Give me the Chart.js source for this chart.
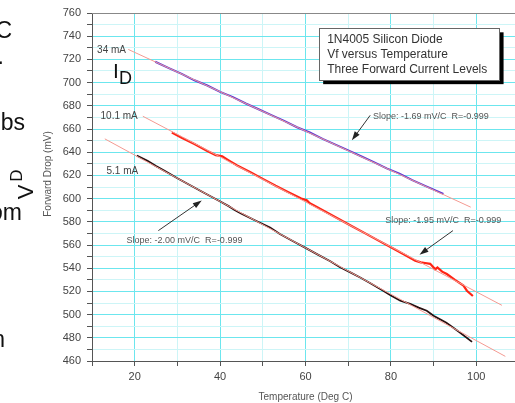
<!DOCTYPE html>
<html>
<head>
<meta charset="utf-8">
<script src="https://cdn.jsdelivr.net/npm/chart.js@4/dist/chart.umd.min.js"></script>
<style>
  html, body { margin: 0; padding: 0; background: #fff; overflow: hidden; }
  body { width: 515px; height: 403px; position: relative; font-family: "Liberation Sans", Arial, sans-serif; }
  #chart { position: absolute; left: 0; top: 0; }
  .slide { position: absolute; font-size: 23px; line-height: 1; color: #111; white-space: nowrap; }
  .rot { display: inline-block; transform-origin: center; transform: rotate(-90deg); }
</style>
</head>
<body>
<canvas id="chart" width="530" height="403"></canvas>

<!-- cut-off slide text on the left -->
<div class="slide" style="right:503px; top:19px;">C</div>
<div class="slide" style="right:511px; top:45px;">.</div>
<div class="slide" style="right:490px; top:111px;">bs</div>
<div class="slide" style="right:493px; top:201px;">om</div>
<div class="slide" style="right:510px; top:328px;">n</div>
<div class="slide rot" style="left:19px; top:181px; font-size:22px;">V</div>
<div class="slide rot" style="left:10px; top:167px; font-size:17px;">D</div>
<div class="slide" style="left:113px; top:60px; font-size:21px;">I</div>
<div class="slide" style="left:119px; top:69px; font-size:18px;">D</div>

<script>
  // ---- data ----
  const temps34 = [24.8, 28, 31, 34, 37, 40, 43, 46, 49, 52, 55, 58, 61, 64, 67, 70, 73, 76, 79, 82, 85, 88, 92.3];
  const drop34 = [718, 712.5, 707.5, 702, 697.5, 692, 687.5, 682, 677, 672, 667, 661.5, 657, 651.5, 646.5, 641.5, 636.5, 631.5, 626, 621.5, 616, 611, 604];

  const temps10 = [28.7, 31, 34, 37, 39, 40.5, 42, 44, 47, 50, 53, 56, 59, 60.3, 61, 62, 65, 68, 71, 74, 77, 80, 83, 85.7, 87, 88, 89.2, 90.4, 90.9, 92, 93.1, 95, 97, 97.8, 99.2];
  const drop10 = [657, 652.5, 647, 641, 637.5, 636.5, 633, 628.5, 623, 617, 611, 605.5, 600, 598.5, 596, 594, 588, 582, 576, 570, 564, 558, 552, 546.5, 545, 544.5, 543.8, 539, 540.7, 537, 535, 530, 525, 520.6, 516];

  const temps5 = [20.5, 23, 25, 27.1, 30, 33, 36, 39.6, 42, 43.5, 45, 48, 51.7, 54, 57, 60, 63, 65.8, 68, 70.5, 72.8, 75, 78, 80, 82.2, 84.5, 86.5, 88.4, 90, 93, 96, 99];
  const drop5 = [637, 632.5, 628, 623.7, 617.5, 611.5, 605.5, 598.4, 593.5, 590, 587, 581.5, 575, 569.5, 563.5, 557.5, 551.5, 546, 541, 536.4, 532, 527.5, 521, 516.5, 512, 509.3, 506, 503.3, 499, 493, 485, 476.5];

  // linear fit lines: [start, end]
  const fitTemps34 = [18.5, 98.7];
  const fitDrop34 = [728.6, 592.6];
  const fitTemps10 = [21.9, 106];
  const fitDrop10 = [671, 508];
  const fitTemps5 = [13, 106.8];
  const fitDrop5 = [651.5, 464];

  const xLabels = [20, 40, 60, 80, 100];
  const yLabels = [460, 480, 500, 520, 540, 560, 580, 600, 620, 640, 660, 680, 700, 720, 740, 760];

  const currentLabels = ["34 mA", "10.1 mA", "5.1 mA"];
  const slopeLabels = ["Slope: -1.69 mV/C  R=-0.999", "Slope: -1.95 mV/C  R=-0.999", "Slope: -2.00 mV/C  R=-0.999"];
  const boxLines = ["1N4005 Silicon Diode", "Vf versus Temperature", "Three Forward Current Levels"];

  function pts(xs, ys) {
    return xs.map((x, i) => ({ x: x, y: ys[i] }));
  }

  const FONT = "'Liberation Sans', Arial, sans-serif";

  // annotations placed in data units
  const notes = {
    currents: [[11.2, 728], [12.0, 671], [13.4, 623.7]],
    slopes: [[75.8, 670.4], [78.7, 581.1], [18.1, 563.8]],
    arrows: [
      [[75.15, 671.8], [70.86, 650.2]],
      [[94.53, 572.4], [86.7, 551.7]],
      [[25.54, 572.4], [35.71, 598.4]]
    ],
    box: [63.2, 746.8, 105.45, 702.1]
  };

  function arrow(ctx, x1, y1, x2, y2) {
    const a = Math.atan2(y2 - y1, x2 - x1);
    ctx.strokeStyle = "#333";
    ctx.fillStyle = "#222";
    ctx.lineWidth = 1;
    ctx.beginPath();
    ctx.moveTo(x1, y1);
    ctx.lineTo(x2 - 6 * Math.cos(a), y2 - 6 * Math.sin(a));
    ctx.stroke();
    ctx.beginPath();
    ctx.moveTo(x2, y2);
    ctx.lineTo(x2 - 9 * Math.cos(a) + 3 * Math.sin(a), y2 - 9 * Math.sin(a) - 3 * Math.cos(a));
    ctx.lineTo(x2 - 9 * Math.cos(a) - 3 * Math.sin(a), y2 - 9 * Math.sin(a) + 3 * Math.cos(a));
    ctx.closePath();
    ctx.fill();
  }

  const notesPlugin = {
    id: "notes",
    afterDatasetsDraw(chart) {
      const ctx = chart.ctx;
      const xs = chart.scales.x, ys = chart.scales.y;
      const area = chart.chartArea;
      ctx.save();

      // top frame line
      ctx.strokeStyle = "#888";
      ctx.lineWidth = 1;
      ctx.beginPath();
      ctx.moveTo(area.left, area.top + 0.5);
      ctx.lineTo(area.right, area.top + 0.5);
      ctx.stroke();

      // title box with shadow
      const bx1 = xs.getPixelForValue(notes.box[0]), by1 = ys.getPixelForValue(notes.box[1]);
      const bx2 = xs.getPixelForValue(notes.box[2]), by2 = ys.getPixelForValue(notes.box[3]);
      ctx.fillStyle = "#000";
      ctx.fillRect(bx1 + 4, by1 + 4, bx2 - bx1, by2 - by1);
      ctx.fillStyle = "#fff";
      ctx.fillRect(bx1, by1, bx2 - bx1, by2 - by1);
      ctx.strokeStyle = "#666";
      ctx.strokeRect(Math.round(bx1) + 0.5, Math.round(by1) + 0.5, Math.round(bx2 - bx1), Math.round(by2 - by1));
      ctx.fillStyle = "#333";
      ctx.font = "12px " + FONT;
      ctx.textBaseline = "middle";
      ctx.textAlign = "left";
      boxLines.forEach((t, i) => ctx.fillText(t, bx1 + 8, by1 + 11 + i * 15));

      // current labels
      ctx.font = "10px " + FONT;
      ctx.fillStyle = "#444";
      currentLabels.forEach((t, i) => {
        const p = notes.currents[i];
        ctx.fillText(t, xs.getPixelForValue(p[0]), ys.getPixelForValue(p[1]));
      });

      // slope labels and arrows
      ctx.font = "9px " + FONT;
      ctx.fillStyle = "#555";
      slopeLabels.forEach((t, i) => {
        const p = notes.slopes[i];
        ctx.fillText(t, xs.getPixelForValue(p[0]), ys.getPixelForValue(p[1]));
      });
      notes.arrows.forEach((a) => {
        arrow(ctx, xs.getPixelForValue(a[0][0]), ys.getPixelForValue(a[0][1]),
          xs.getPixelForValue(a[1][0]), ys.getPixelForValue(a[1][1]));
      });

      // axis titles
      ctx.fillStyle = "#555";
      ctx.font = "10px " + FONT;
      ctx.textAlign = "center";
      ctx.fillText("Temperature (Deg C)", (area.left + area.right) / 2, area.bottom + 36);
      ctx.translate(area.left - 44, (area.top + area.bottom) / 2 - 13);
      ctx.rotate(-Math.PI / 2);
      ctx.fillText("Forward Drop (mV)", 0, 0);
      ctx.restore();
    }
  };

  const ctx = document.getElementById("chart").getContext("2d");
  const chart = new Chart(ctx, {
    type: "line",
    data: {
      datasets: [
        { data: pts(fitTemps34, fitDrop34), borderColor: "#f49a92", borderWidth: 1 },
        { data: pts(fitTemps10, fitDrop10), borderColor: "#f49a92", borderWidth: 1 },
        { data: pts(fitTemps5, fitDrop5), borderColor: "#f49a92", borderWidth: 1 },
        { data: pts(temps34, drop34), borderColor: "#5a36d8", borderWidth: 2 },
        { data: pts(temps10, drop10), borderColor: "#ff2414", borderWidth: 2.2 },
        { data: pts(temps5, drop5), borderColor: "#261010", borderWidth: 1.8 }
      ]
    },
    options: {
      responsive: false,
      animation: false,
      layout: { padding: { top: 13, right: 11, left: 0, bottom: 0 } },
      elements: { point: { radius: 0 }, line: { tension: 0 } },
      plugins: { legend: { display: false }, tooltip: { enabled: false } },
      scales: {
        x: {
          type: "linear",
          min: 10,
          max: 110,
          afterFit: (s) => { s.height = 42; },
          border: { color: "#555", width: 1 },
          grid: {
            color: (c) => (c.tick && c.tick.value % 20 === 0 ? "#6ce6ee" : "#cdf5f7"),
            tickColor: "#555",
            tickLength: 5
          },
          ticks: {
            stepSize: 10,
            padding: 4,
            color: "#444",
            font: { size: 11, family: FONT },
            maxRotation: 0,
            autoSkip: false,
            callback: (v) => (xLabels.includes(v) ? v : "")
          }
        },
        y: {
          min: 460,
          max: 760,
          afterFit: (s) => { s.width = 92; },
          border: { color: "#555", width: 1 },
          grid: {
            color: (c) => (c.tick && c.tick.value % 20 === 0 ? "#6ce6ee" : "#cdf5f7"),
            tickColor: "#555",
            tickLength: 5
          },
          ticks: {
            stepSize: 10,
            padding: 6,
            color: "#444",
            font: { size: 11, family: FONT },
            autoSkip: false,
            callback: (v) => (yLabels.includes(v) ? v : "")
          }
        }
      }
    },
    plugins: [notesPlugin]
  });
</script>
</body>
</html>
